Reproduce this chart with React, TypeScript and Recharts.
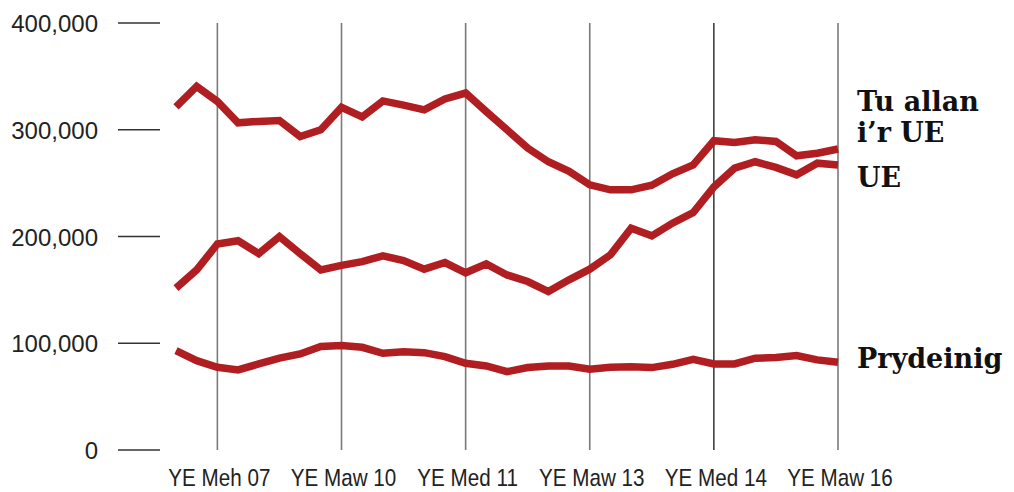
import React from 'react';
import { LineChart, Line, XAxis, YAxis, ReferenceLine } from 'recharts';

// index positions of the labelled periods and their labels
const xTicks = [2, 8, 14, 20, 26, 32];
const xTickLabels = ['YE Meh 07', 'YE Maw 10', 'YE Med 11', 'YE Maw 13', 'YE Med 14', 'YE Maw 16'];
const yTicks = [0, 100000, 200000, 300000, 400000];

const outsideEU = [
  321500, 340600, 326500, 306500, 307800, 308700, 293700, 300000, 321000, 312000, 327000,
  323000, 318700, 328800, 334400, 317000, 300000, 282800, 270000, 261000, 248400, 243700,
  243700, 248000, 258700, 267000, 289700, 288000, 290600, 289000, 275600, 278000, 282000,
];
const eu = [
  151600, 168700, 193000, 196000, 184000, 200000, 184000, 168700, 173000, 176500, 181900,
  177500, 169400, 175600, 166000, 174400, 164000, 157800, 148400, 159400, 169400, 182800,
  207800, 200600, 212500, 222500, 246500, 264000, 270000, 264700, 257800, 268700, 267000,
];
const british = [
  93000, 83700, 77500, 75000, 80600, 86000, 90000, 96900, 97800, 96200, 90600,
  92000, 91200, 87500, 81200, 78700, 73400, 77200, 78700, 78700, 75600, 77500,
  78000, 77200, 80300, 85000, 80600, 80600, 86000, 86600, 88400, 84400, 82200,
];

const data = outsideEU.map((v, i) => ({ i, outsideEU: v, eu: eu[i], british: british[i] }));

const RED = '#b01e22';
const tickFont = "'Liberation Sans', Arial, sans-serif";
const labelFont = "'DejaVu Serif', serif";

const YTick = (props: any) => {
  const { y, payload } = props;
  return (
    <g>
      <line x1={118} x2={160} y1={y} y2={y} stroke="#333" strokeWidth={1.5} />
      <text x={98} y={y + 9} textAnchor="end" fontSize={24} fill="#222" fontFamily={tickFont}>
        {payload.value.toLocaleString('en-US')}
      </text>
    </g>
  );
};

// the reference uses a condensed face, so squeeze the text horizontally
const XTick = (props: any) => {
  const { x, payload } = props;
  const k = xTicks.indexOf(payload.value);
  return (
    <text
      transform={`translate(${x + 2},486) scale(0.86,1)`}
      textAnchor="middle"
      fontSize={24}
      fill="#222"
      fontFamily={tickFont}
    >
      {xTickLabels[k]}
    </text>
  );
};

const endLabel = (lines: string[], dy: number) => (props: any) => {
  const { x, y, index } = props;
  if (index !== data.length - 1) return null;
  return (
    <text x={x + 19} y={y + dy} fontSize={27} fontWeight="bold" fill="#111" fontFamily={labelFont}>
      {lines.map((t, k) => (
        <tspan key={k} x={x + 19} dy={k === 0 ? 0 : 31}>{t}</tspan>
      ))}
    </text>
  );
};

export default function App() {
  return (
    <div style={{ width: 1014, height: 492, background: '#fff' }}>
      <style>{'body{margin:0}'}</style>
      <LineChart width={1014} height={492} data={data} margin={{ top: 23, right: 176, left: 0, bottom: 0 }}>
        <XAxis
          dataKey="i"
          type="number"
          domain={[0, 32]}
          ticks={xTicks}
          tick={XTick}
          axisLine={false}
          tickLine={false}
          height={42}
          interval={0}
        />
        <YAxis
          width={176}
          domain={[0, 400000]}
          ticks={yTicks}
          tick={YTick}
          axisLine={false}
          tickLine={false}
          interval={0}
        />
        {xTicks.map((t) => (
          <ReferenceLine
            key={t}
            x={t}
            stroke={t === 26 ? '#000' : '#7a7a7a'}
            strokeWidth={t === 26 ? 1.2 : 1.6}
          />
        ))}
        <Line
          dataKey="outsideEU"
          stroke={RED}
          strokeWidth={7.5}
          dot={false}
          isAnimationActive={false}
          label={endLabel(['Tu allan', 'i\u2019r UE'], -38)}
        />
        <Line
          dataKey="eu"
          stroke={RED}
          strokeWidth={7.5}
          dot={false}
          isAnimationActive={false}
          label={endLabel(['UE'], 22)}
        />
        <Line
          dataKey="british"
          stroke={RED}
          strokeWidth={7.5}
          dot={false}
          isAnimationActive={false}
          label={endLabel(['Prydeinig'], 6)}
        />
      </LineChart>
    </div>
  );
}
